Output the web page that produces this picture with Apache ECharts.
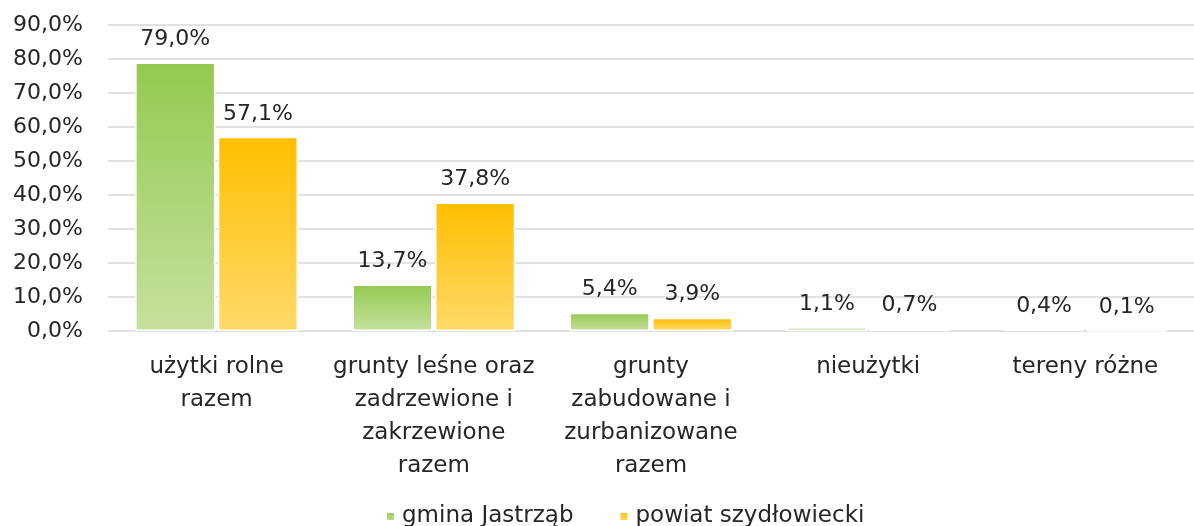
<!DOCTYPE html>
<html><head><meta charset="utf-8">
<script src="https://cdn.jsdelivr.net/npm/echarts@6/dist/echarts.min.js"></script>
<style>html,body{margin:0;padding:0;background:#fff}#c{width:1194px;height:526px}</style>
</head><body><div id="c"></div>
<script>
const categories = ['użytki rolne\nrazem', 'grunty leśne oraz\nzadrzewione i\nzakrzewione\nrazem', 'grunty\nzabudowane i\nzurbanizowane\nrazem', 'nieużytki', 'tereny różne'];
const seriesNames = ['gmina Jastrząb', 'powiat szydłowiecki'];
const gminaValues = [79.0, 13.7, 5.4, 1.1, 0.4];
const powiatValues = [57.1, 37.8, 3.9, 0.7, 0.1];
const yTicks = [0, 10, 20, 30, 40, 50, 60, 70, 80, 90];

const FONT = 'DejaVu Sans';
const fmt = v => v.toFixed(1).replace('.', ',') + '%';
const grad = (top, bottom) => new echarts.graphic.LinearGradient(0, 0, 0, 1, [{offset: 0, color: top}, {offset: 1, color: bottom}]);
const greenGrad = grad('#94C950', '#C6E19E');
const yellowGrad = grad('#FFBE00', '#FFDA6A');

const chart = echarts.init(document.getElementById('c'), null, {renderer: 'canvas'});
const labelCfg = {show: true, position: 'top', distance: 12, fontFamily: FONT, fontSize: 22, color: '#262626', formatter: p => fmt(p.value)};
chart.setOption({
  animation: false,
  backgroundColor: '#fff',
  textStyle: {fontFamily: FONT},
  grid: {left: 108, right: 0, top: 25, bottom: 195, containLabel: false},
  legend: {
    left: 380, top: 500, itemWidth: 9, itemHeight: 9, itemGap: 45,
    icon: 'rect',
    textStyle: {fontFamily: FONT, fontSize: 23, color: '#262626', padding: [0, 0, 0, 2]},
    data: seriesNames
  },
  xAxis: {
    type: 'category', data: categories,
    axisLine: {show: false}, axisTick: {show: false},
    axisLabel: {fontFamily: FONT, fontSize: 23, color: '#262626', lineHeight: 33, margin: 20, interval: 0}
  },
  yAxis: {
    type: 'value', min: yTicks[0], max: yTicks[yTicks.length - 1], interval: 10,
    axisLine: {show: false}, axisTick: {show: false},
    axisLabel: {fontFamily: FONT, fontSize: 22, color: '#262626', margin: 25, formatter: fmt},
    splitLine: {lineStyle: {color: '#D9D9D9', width: 1.5}}
  },
  series: [
    {name: seriesNames[0], type: 'bar', data: gminaValues, barGap: '3%', barCategoryGap: '25%',
     itemStyle: {color: greenGrad, borderColor: '#fff', borderWidth: 1.5}, label: labelCfg},
    {name: seriesNames[1], type: 'bar', data: powiatValues,
     itemStyle: {color: yellowGrad, borderColor: '#fff', borderWidth: 1.5}, label: labelCfg}
  ]
});
</script></body></html>
